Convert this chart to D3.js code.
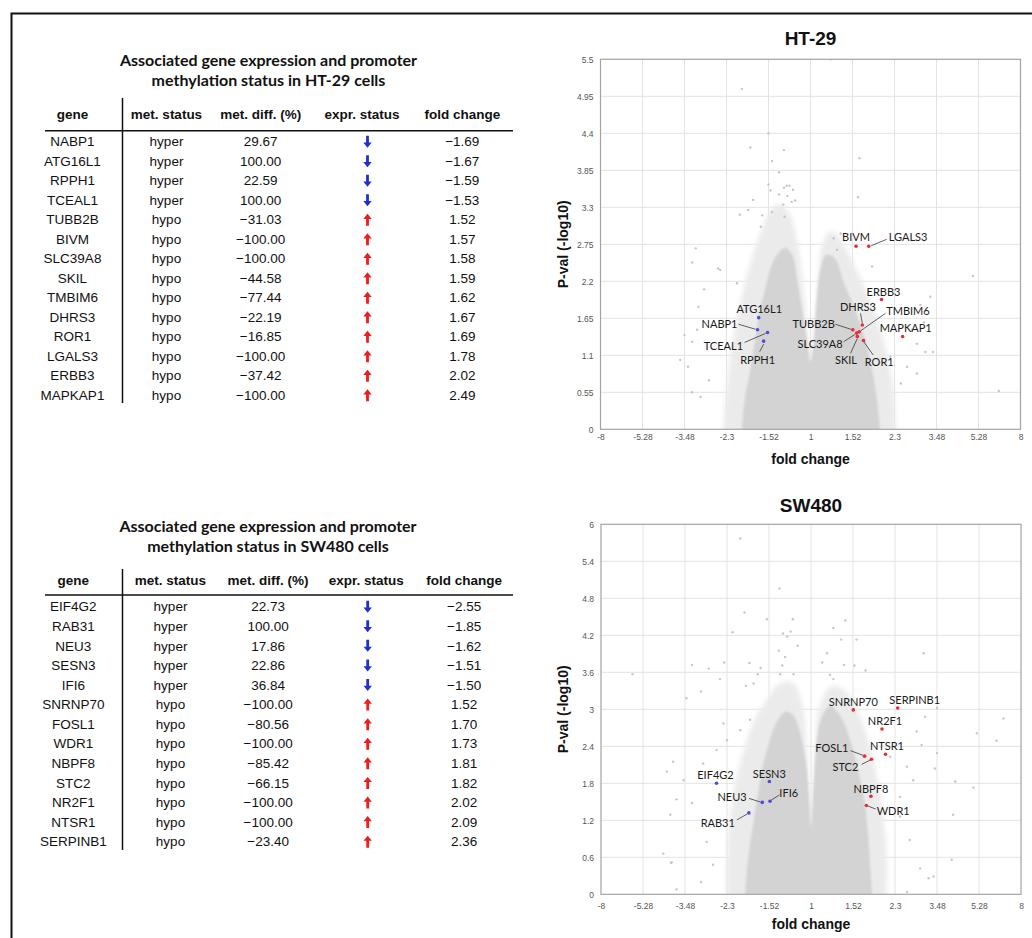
<!DOCTYPE html>
<html>
<head>
<meta charset="utf-8">
<script src="https://cdn.jsdelivr.net/npm/d3@7"></script>
<style>
  body { margin: 0; background: #fff; }
  svg { display: block; }
</style>
</head>
<body>
<svg id="fig" width="1032" height="938"></svg>
<script>

// ---------- HT-29 table / labelled genes ----------
const htGenes = ['NABP1', 'ATG16L1', 'RPPH1', 'TCEAL1', 'TUBB2B', 'BIVM', 'SLC39A8', 'SKIL', 'TMBIM6', 'DHRS3', 'ROR1', 'LGALS3', 'ERBB3', 'MAPKAP1'];
const htMetStatus = ['hyper', 'hyper', 'hyper', 'hyper', 'hypo', 'hypo', 'hypo', 'hypo', 'hypo', 'hypo', 'hypo', 'hypo', 'hypo', 'hypo'];
const htMetDiff = [29.67, 100.00, 22.59, 100.00, -31.03, -100.00, -100.00, -44.58, -77.44, -22.19, -16.85, -100.00, -37.42, -100.00];
const htExpr = ['down', 'down', 'down', 'down', 'up', 'up', 'up', 'up', 'up', 'up', 'up', 'up', 'up', 'up'];
const htFold = [-1.69, -1.67, -1.59, -1.53, 1.52, 1.57, 1.58, 1.59, 1.62, 1.67, 1.69, 1.78, 2.02, 2.49];
// -log10 p
const htPval = [1.48, 1.66, 1.31, 1.44, 1.48, 2.72, 1.43, 1.38, 1.45, 1.55, 1.32, 2.72, 1.93, 1.38];

// ---------- SW480 table / labelled genes ----------
const swGenes = ['EIF4G2', 'RAB31', 'NEU3', 'SESN3', 'IFI6', 'SNRNP70', 'FOSL1', 'WDR1', 'NBPF8', 'STC2', 'NR2F1', 'NTSR1', 'SERPINB1'];
const swMetStatus = ['hyper', 'hyper', 'hyper', 'hyper', 'hyper', 'hypo', 'hypo', 'hypo', 'hypo', 'hypo', 'hypo', 'hypo', 'hypo'];
const swMetDiff = [22.73, 100.00, 17.86, 22.86, 36.84, -100.00, -80.56, -100.00, -85.42, -66.15, -100.00, -100.00, -23.40];
const swExpr = ['down', 'down', 'down', 'down', 'down', 'up', 'up', 'up', 'up', 'up', 'up', 'up', 'up'];
const swFold = [-2.55, -1.85, -1.62, -1.51, -1.50, 1.52, 1.70, 1.73, 1.81, 1.82, 2.02, 2.09, 2.36];
const swPval = [1.80, 1.32, 1.49, 1.83, 1.51, 2.99, 2.24, 1.44, 1.59, 2.19, 2.68, 2.27, 3.02];

// ---------- axes ----------
const xTickPos = [-3, -2.4, -1.8, -1.2, -0.6, 0, 0.6, 1.2, 1.8, 2.4, 3];   // log2 units
const xTickLabels = ['-8', '-5.28', '-3.48', '-2.3', '-1.52', '1', '1.52', '2.3', '3.48', '5.28', '8'];
const htYTicks = [0, 0.55, 1.1, 1.65, 2.2, 2.75, 3.3, 3.85, 4.4, 4.95, 5.5];
const htYTickLabels = ['0', '0.55', '1.1', '1.65', '2.2', '2.75', '3.3', '3.85', '4.4', '4.95', '5.5'];
const swYTicks = [0, 0.6, 1.2, 1.8, 2.4, 3, 3.6, 4.2, 4.8, 5.4, 6];
const swYTickLabels = ['0', '0.6', '1.2', '1.8', '2.4', '3', '3.6', '4.2', '4.8', '5.4', '6'];

// ---------- background genes (log2 fold change, -log10 p) ----------
// dense core and its lighter fringe, outlined by eye
const htCore = [[-0.98, -0.3], [-0.98, 0], [-0.94, 0.44], [-0.86, 0.88], [-0.79, 1.33], [-0.72, 1.77], [-0.65, 2.07], [-0.58, 2.37], [-0.48, 2.59], [-0.36, 2.7], [-0.26, 2.59], [-0.19, 2.22], [-0.12, 1.77], [-0.05, 1.33], [0, 1.0], [0.05, 1.33], [0.09, 1.92], [0.14, 2.37], [0.22, 2.59], [0.34, 2.55], [0.49, 2.14], [0.64, 1.77], [0.78, 1.33], [0.88, 0.88], [0.95, 0.44], [0.99, 0], [0.99, -0.3]];
const htHalo = [[-1.25, -0.3], [-1.25, 0], [-1.2, 0.6], [-1.13, 1.2], [-1.02, 1.8], [-0.88, 2.4], [-0.74, 2.85], [-0.6, 3.2], [-0.45, 3.35], [-0.3, 3.2], [-0.2, 2.85], [-0.1, 2.1], [-0.03, 1.3], [0, 1.05], [0.03, 1.3], [0.1, 2.1], [0.17, 2.75], [0.3, 2.95], [0.45, 2.8], [0.62, 2.45], [0.8, 2.05], [0.98, 1.55], [1.12, 1.0], [1.2, 0.4], [1.22, 0], [1.22, -0.3]];
const htScatter = [[0.29, 5.5], [-0.98, 5.06], [-0.60, 4.40], [-0.86, 4.19], [-0.38, 4.15], [0.70, 4.03], [-0.55, 3.99], [-0.45, 3.82], [-0.60, 3.64], [-0.34, 3.62], [-0.30, 3.62], [-0.57, 3.55], [-0.38, 3.59], [-0.25, 3.56], [-0.45, 3.49], [-0.33, 3.47], [0.68, 3.45], [-0.82, 3.41], [-0.27, 3.38], [-0.39, 3.34], [-0.22, 3.40], [-0.89, 3.26], [-1.01, 3.19], [-0.69, 3.18], [-0.55, 3.23], [-0.37, 3.16], [-0.71, 3.01], [0.43, 2.91], [0.33, 2.84], [-1.64, 2.69], [0.38, 2.67], [0.88, 2.42], [2.32, 2.28], [-1.32, 2.39], [-1.69, 2.48], [-1.29, 2.37], [-1.52, 2.08], [-1.05, 2.17], [-1.60, 1.82], [1.71, 1.97], [1.57, 1.85], [-1.62, 1.48], [-1.80, 1.40], [-1.69, 1.30], [1.45, 1.48], [1.64, 1.15], [1.75, 1.15], [1.14, 1.08], [-1.86, 1.03], [-1.75, 0.93], [1.52, 0.83], [2.69, 0.57], [-1.45, 0.73], [-1.57, 0.48], [1.29, 0.68], [1.52, 1.27], [1.38, 0.93], [1.62, 1.59], [-1.69, 0.55]];

const swCore = [[-0.94, -0.3], [-0.94, 0], [-0.9, 0.56], [-0.84, 1.04], [-0.77, 1.53], [-0.7, 2.02], [-0.61, 2.42], [-0.51, 2.75], [-0.37, 2.96], [-0.26, 2.91], [-0.17, 2.67], [-0.08, 2.2], [-0.03, 1.6], [0, 1.1], [0.03, 1.6], [0.07, 2.3], [0.14, 2.83], [0.27, 3.05], [0.41, 2.91], [0.56, 2.5], [0.67, 2.02], [0.76, 1.53], [0.81, 1.04], [0.84, 0.56], [0.87, 0], [0.87, -0.3]];
const swHalo = [[-1.2, -0.3], [-1.2, 0], [-1.2, 0.6], [-1.16, 1.2], [-1.08, 1.8], [-0.97, 2.3], [-0.82, 2.8], [-0.63, 3.15], [-0.45, 3.42], [-0.25, 3.42], [-0.12, 3.05], [-0.06, 2.4], [-0.02, 1.4], [0, 1.15], [0.02, 1.4], [0.06, 2.4], [0.12, 3.05], [0.3, 3.38], [0.5, 3.28], [0.68, 2.95], [0.83, 2.45], [0.95, 1.85], [1.04, 1.2], [1.08, 0.6], [1.08, 0], [1.08, -0.3]];
const swScatter = [[-1.01, 5.77], [-0.45, 4.96], [-0.95, 4.57], [-0.63, 4.46], [-0.26, 4.46], [0.49, 4.44], [0.32, 4.32], [-1.12, 4.25], [-0.40, 4.23], [-0.29, 4.26], [-0.34, 4.18], [0.43, 4.13], [0.65, 4.13], [-0.19, 4.03], [-0.46, 3.95], [1.61, 3.91], [-0.37, 3.85], [0.23, 3.91], [-1.70, 3.72], [-1.24, 3.76], [-0.88, 3.75], [0.16, 3.76], [0.47, 3.72], [-1.46, 3.66], [-0.72, 3.67], [-0.41, 3.71], [0.62, 3.71], [0.78, 3.63], [-1.30, 3.49], [-2.55, 3.57], [-0.76, 3.57], [-0.44, 3.57], [-0.25, 3.57], [0.27, 3.56], [0.32, 3.49], [-0.93, 3.38], [-0.82, 3.42], [-1.57, 3.29], [-1.78, 3.18], [2.75, 2.85], [1.80, 3.02], [1.63, 2.88], [2.37, 2.61], [2.65, 2.49], [1.51, 2.64], [1.80, 2.29], [1.58, 2.42], [1.77, 2.04], [2.06, 1.83], [2.32, 1.73], [2.03, 1.29], [2.01, 0.56], [1.75, 0.29], [1.37, 0.04], [1.56, 0.42], [1.41, 0.88], [1.27, 1.26], [1.46, 1.85], [1.37, 2.07], [1.13, 2.23], [1.27, 1.58], [-2.06, 1.99], [-1.97, 2.15], [-1.82, 1.85], [-1.92, 1.54], [-1.70, 1.48], [-2.01, 1.29], [-2.11, 0.66], [-2.00, 0.51], [-1.92, 0.08], [-1.57, 0.20], [-1.40, 0.48], [-1.49, 0.85], [-1.54, 2.12], [-1.35, 2.34], [-1.20, 2.50], [-1.01, 2.66], [-0.87, 2.83], [-1.25, 2.77], [1.68, 0.26], [-1.99, 0.52]];

// ---------- label placement (px offsets from the dot; lead = leader line x1,y1,x2,y2) ----------
const htLabelPlace = {
    NABP1:   { anchor: 'end', dx: -20, dy: -6, lead: [-2, -0.5, -19, -5.5] },
    ATG16L1: { anchor: 'middle', dx: 0.5, dy: -8.5 },
    RPPH1:   { anchor: 'middle', dx: -6, dy: 19, lead: [0, 3, -4, 10.5] },
    TCEAL1:  { anchor: 'end', dx: -24.5, dy: 13.6, lead: [-2, 1, -23, 10] },
    TUBB2B:  { anchor: 'end', dx: -18, dy: -5.7, lead: [-2, -0.5, -17.5, -5.5] },
    BIVM:    { anchor: 'middle', dx: 0, dy: -9 },
    SLC39A8: { anchor: 'end', dx: -14, dy: 11, lead: [-1.5, 1.2, -13, 8.6] },
    SKIL:    { anchor: 'middle', dx: -11.3, dy: 24, lead: [0, 2, -6.8, 16.8] },
    TMBIM6:  { anchor: 'start', dx: 27, dy: -21, lead: [1.5, -1, 26.3, -18.5] },
    DHRS3:   { anchor: 'middle', dx: -4.3, dy: -18.3, lead: [0, -2, -1.8, -11.7] },
    ROR1:    { anchor: 'start', dx: 1.3, dy: 21.5, lead: [0.5, 1.5, 9.7, 14.5] },
    LGALS3:  { anchor: 'start', dx: 20, dy: -9.3, lead: [2.5, -0.6, 18, -7] },
    ERBB3:   { anchor: 'middle', dx: 2, dy: -7.5 },
    MAPKAP1: { anchor: 'middle', dx: 3, dy: -8 }
};
const swLabelPlace = {
    EIF4G2:   { anchor: 'middle', dx: -1, dy: -8 },
    RAB31:    { anchor: 'end', dx: -14, dy: 10, lead: [-1.5, 1, -12, 7] },
    NEU3:     { anchor: 'end', dx: -15.6, dy: -5.7, lead: [-1.5, -0.3, -13.3, -4] },
    SESN3:    { anchor: 'middle', dx: 0, dy: -7.5 },
    IFI6:     { anchor: 'start', dx: 9.3, dy: -8.5, lead: [1.2, -1, 9.3, -6.2] },
    SNRNP70:  { anchor: 'middle', dx: 0, dy: -8.2 },
    FOSL1:    { anchor: 'end', dx: -16.3, dy: -8, lead: [-1.5, -0.8, -13.9, -5.5] },
    WDR1:     { anchor: 'start', dx: 10.3, dy: 5.5, lead: [1.5, 0.5, 9.3, 3.5] },
    NBPF8:    { anchor: 'middle', dx: 0, dy: -7 },
    STC2:     { anchor: 'end', dx: -13.2, dy: 7.5, lead: [-1.2, 0.8, -9.8, 5.1] },
    NR2F1:    { anchor: 'middle', dx: 3, dy: -8.3 },
    NTSR1:    { anchor: 'middle', dx: 1.5, dy: -8.3 },
    SERPINB1: { anchor: 'middle', dx: 17, dy: -8 }
};

// ---------- helpers ----------
const svg = d3.select('#fig');
const MINUS = '\u2212';
const fmt2 = v => (v < 0 ? MINUS : '') + d3.format('.2f')(Math.abs(v));
const lfc = fc => Math.sign(fc) * Math.log2(Math.abs(fc));   // signed fold change -> log2 position
const COLOR_UP = '#ee1c1c';
const COLOR_DOWN = '#2030cc';

// outer frame (runs off the right / bottom edge)
svg.append('rect')
    .attr('x', 11.5).attr('y', 13.5)
    .attr('width', 1040).attr('height', 940)
    .attr('fill', 'none').attr('stroke', '#111').attr('stroke-width', 2);

/**
 * Table with gene / methylation / expression columns
 */
function drawTable(cfg) {

    const g = svg.append('g');

    // Title (two lines)
    g.selectAll('text.title').data(cfg.title).join('text')
        .attr('class', 'title')
        .attr('x', cfg.titleX)
        .attr('y', (d, i) => cfg.titleY + i * 20)
        .attr('dy', '0.35em')
        .attr('text-anchor', 'middle')
        .style('font-family', 'Lato, "Open Sans", sans-serif')
        .style('font-weight', 700)
        .style('font-size', '16px')
        .style('fill', '#111')
        .text(d => d);

    // Header
    const heads = ['gene', 'met. status', 'met. diff. (%)', 'expr. status', 'fold change'];
    g.selectAll('text.head').data(heads).join('text')
        .attr('class', 'head')
        .attr('x', (d, i) => cfg.headX[i])
        .attr('y', cfg.headY)
        .attr('dy', '0.35em')
        .attr('text-anchor', 'middle')
        .style('font-family', '"Liberation Sans", Arial, sans-serif')
        .style('font-weight', 700)
        .style('font-size', '13.5px')
        .style('fill', '#111')
        .text(d => d);

    // Rules
    g.append('line')
        .attr('x1', 45).attr('x2', 513)
        .attr('y1', cfg.ruleY).attr('y2', cfg.ruleY)
        .attr('stroke', '#111').attr('stroke-width', 1.5);
    g.append('line')
        .attr('x1', 122.5).attr('x2', 122.5)
        .attr('y1', cfg.vTop).attr('y2', cfg.vBottom)
        .attr('stroke', '#111').attr('stroke-width', 1.5);

    // Rows
    const rowY = d3.scaleLinear().domain([0, 1]).range([cfg.rowY0, cfg.rowY0 + cfg.rowStep]);
    const rows = cfg.genes.map((gene, i) => ({
        cells: [gene, cfg.met[i], fmt2(cfg.diff[i]), null, fmt2(cfg.fold[i])],
        expr: cfg.expr[i],
        y: rowY(i)
    }));

    const rowG = g.selectAll('g.row').data(rows).join('g')
        .attr('class', 'row')
        .attr('transform', d => `translate(0,${d.y})`);

    rowG.selectAll('text').data(d => d.cells.map((c, i) => ({ c, i })).filter(e => e.c !== null)).join('text')
        .attr('x', d => cfg.colX[d.i])
        .attr('dy', '0.35em')
        .attr('text-anchor', 'middle')
        .style('font-family', '"Liberation Sans", Arial, sans-serif')
        .style('font-size', '13.5px')
        .style('fill', '#111')
        .text(d => d.c);

    // Arrows (drawn pointing up, flipped for down)
    const upArrow = 'M-1.4,6 L1.4,6 L1.4,-0.8 L4.2,-0.8 L0,-6 L-4.2,-0.8 L-1.4,-0.8 Z';
    rowG.append('path')
        .attr('d', upArrow)
        .attr('transform', d => `translate(${cfg.colX[3]},0)` + (d.expr === 'down' ? ' scale(1,-1)' : ''))
        .attr('fill', d => d.expr === 'down' ? COLOR_DOWN : COLOR_UP);
}

/**
 * Volcano plot
 */
function drawVolcano(cfg) {

    const g = svg.append('g');
    const x = d3.scaleLinear().domain([-3, 3]).range([cfg.left, cfg.right]);
    const y = d3.scaleLinear().domain([0, cfg.yMax]).range([cfg.bottom, cfg.top]);
    const w = cfg.right - cfg.left;
    const h = cfg.bottom - cfg.top;

    // Clip
    const clipId = 'clip-' + cfg.id;
    svg.append('clipPath').attr('id', clipId)
        .append('rect').attr('x', cfg.left).attr('y', cfg.top).attr('width', w).attr('height', h);

    // Grid
    const grid = g.append('g').attr('class', 'grid');
    grid.selectAll('line.gx').data(xTickPos.slice(1, -1)).join('line')
        .attr('x1', d => x(d)).attr('x2', d => x(d))
        .attr('y1', cfg.top).attr('y2', cfg.bottom)
        .attr('stroke', '#e3e3e3').attr('stroke-width', 1);
    grid.selectAll('line.gy').data(cfg.yTicks.slice(1, -1)).join('line')
        .attr('x1', cfg.left).attr('x2', cfg.right)
        .attr('y1', d => y(d)).attr('y2', d => y(d))
        .attr('stroke', '#e3e3e3').attr('stroke-width', 1);

    // Background cloud
    const area = d3.line().x(d => x(d[0])).y(d => y(d[1])).curve(d3.curveCatmullRomClosed.alpha(0.5));
    const cloud = g.append('g').attr('clip-path', `url(#${clipId})`);
    cloud.append('path').attr('d', area(cfg.halo))
        .attr('fill', '#ebebeb').attr('filter', 'url(#soft2)');
    cloud.append('path').attr('d', area(cfg.core))
        .attr('fill', '#d3d3d3').attr('filter', 'url(#soft1)');
    cloud.selectAll('circle').data(cfg.scatter).join('circle')
        .attr('cx', d => x(d[0])).attr('cy', d => y(d[1]))
        .attr('r', 1.2)
        .attr('fill', '#c6c6c6');

    // Frame
    g.append('rect')
        .attr('x', cfg.left).attr('y', cfg.top).attr('width', w).attr('height', h)
        .attr('fill', 'none').attr('stroke', '#a3a3a3').attr('stroke-width', 1.2);

    // Axes
    const xAxis = d3.axisBottom(x).tickValues(xTickPos)
        .tickFormat((d, i) => xTickLabels[i]).tickSize(0).tickPadding(cfg.xPad);
    const yAxis = d3.axisLeft(y).tickValues(cfg.yTicks)
        .tickFormat((d, i) => cfg.yTickLabels[i]).tickSize(0).tickPadding(7);
    const gx = g.append('g').attr('transform', `translate(0,${cfg.bottom})`).call(xAxis);
    const gy = g.append('g').attr('transform', `translate(${cfg.left},0)`).call(yAxis);
    [gx, gy].forEach(a => {
        a.select('.domain').remove();
        a.selectAll('text')
            .style('font-family', '"Liberation Sans", Arial, sans-serif')
            .style('font-size', '8.5px')
            .style('fill', '#555');
    });

    // Titles
    g.append('text')
        .attr('x', (cfg.left + cfg.right) / 2).attr('y', cfg.titleY)
        .attr('dy', '0.35em').attr('text-anchor', 'middle')
        .style('font-family', '"Liberation Sans", Arial, sans-serif')
        .style('font-weight', 700).style('font-size', '19px').style('fill', '#111')
        .text(cfg.title);
    g.append('text')
        .attr('x', (cfg.left + cfg.right) / 2).attr('y', cfg.xTitleY)
        .attr('dy', '0.35em').attr('text-anchor', 'middle')
        .style('font-family', '"Liberation Sans", Arial, sans-serif')
        .style('font-weight', 700).style('font-size', '14px').style('fill', '#111')
        .text('fold change');
    g.append('text')
        .attr('transform', `translate(563,${(cfg.top + cfg.bottom) / 2}) rotate(-90)`)
        .attr('dy', '0.35em').attr('text-anchor', 'middle')
        .style('font-family', '"Liberation Sans", Arial, sans-serif')
        .style('font-weight', 700).style('font-size', '14px').style('fill', '#111')
        .text('P-val (-log10)');

    // Labelled genes
    const genes = cfg.genes.map((gene, i) => ({
        gene,
        px: x(lfc(cfg.fold[i])),
        py: y(cfg.pval[i]),
        up: cfg.fold[i] > 0,
        place: cfg.place[gene]
    }));

    g.selectAll('line.lead').data(genes.filter(d => d.place.lead)).join('line')
        .attr('class', 'lead')
        .attr('x1', d => d.px + d.place.lead[0]).attr('y1', d => d.py + d.place.lead[1])
        .attr('x2', d => d.px + d.place.lead[2]).attr('y2', d => d.py + d.place.lead[3])
        .attr('stroke', '#3a3a3a').attr('stroke-width', 0.8);

    g.selectAll('circle.hit').data(genes).join('circle')
        .attr('class', 'hit')
        .attr('cx', d => d.px).attr('cy', d => d.py)
        .attr('r', 1.8)
        .attr('fill', d => d.up ? '#ea2a35' : '#4b4be0');

    g.selectAll('text.lab').data(genes).join('text')
        .attr('class', 'lab')
        .attr('x', d => d.px + d.place.dx)
        .attr('y', d => d.py + d.place.dy)
        .attr('dy', '0.35em')
        .attr('text-anchor', d => d.place.anchor)
        .style('font-family', 'Lato, "Open Sans", sans-serif')
        .style('font-size', '11px')
        .style('fill', '#1a1a1a')
        .text(d => d.gene);
}

// blur filters for the dense cloud
const defs = svg.append('defs');
defs.append('filter').attr('id', 'soft1').attr('x', '-20%').attr('y', '-20%').attr('width', '140%').attr('height', '140%')
    .append('feGaussianBlur').attr('stdDeviation', 0.8);
defs.append('filter').attr('id', 'soft2').attr('x', '-20%').attr('y', '-20%').attr('width', '140%').attr('height', '140%')
    .append('feGaussianBlur').attr('stdDeviation', 2.5);

drawTable({
    title: ['Associated gene expression and promoter', 'methylation status in HT-29 cells'],
    titleX: 268.5, titleY: 60.7,
    headX: [72.5, 166.5, 260.7, 362, 462.3], headY: 114,
    colX: [72.5, 166.5, 260.7, 367.5, 462.3],
    ruleY: 130.7, vTop: 98, vBottom: 403,
    rowY0: 141.7, rowStep: 19.5,
    genes: htGenes, met: htMetStatus, diff: htMetDiff, expr: htExpr, fold: htFold
});

drawTable({
    title: ['Associated gene expression and promoter', 'methylation status in SW480 cells'],
    titleX: 268, titleY: 526,
    headX: [73.3, 170.3, 268, 366.2, 464.2], headY: 580,
    colX: [73.3, 170.5, 268.2, 367.7, 464.2],
    ruleY: 595, vTop: 569, vBottom: 850,
    rowY0: 606.7, rowStep: 19.58,
    genes: swGenes, met: swMetStatus, diff: swMetDiff, expr: swExpr, fold: swFold
});

drawVolcano({
    id: 'ht', title: 'HT-29',
    left: 600.5, right: 1020.5, top: 59.3, bottom: 429.3,
    yMax: 5.5, yTicks: htYTicks, yTickLabels: htYTickLabels,
    titleY: 38, xTitleY: 459, xPad: 5,
    core: htCore, halo: htHalo, scatter: htScatter,
    genes: htGenes, fold: htFold, pval: htPval, place: htLabelPlace
});

drawVolcano({
    id: 'sw', title: 'SW480',
    left: 601, right: 1021, top: 524.3, bottom: 894.3,
    yMax: 6, yTicks: swYTicks, yTickLabels: swYTickLabels,
    titleY: 505, xTitleY: 924, xPad: 9,
    core: swCore, halo: swHalo, scatter: swScatter,
    genes: swGenes, fold: swFold, pval: swPval, place: swLabelPlace
});

</script>
</body>
</html>
